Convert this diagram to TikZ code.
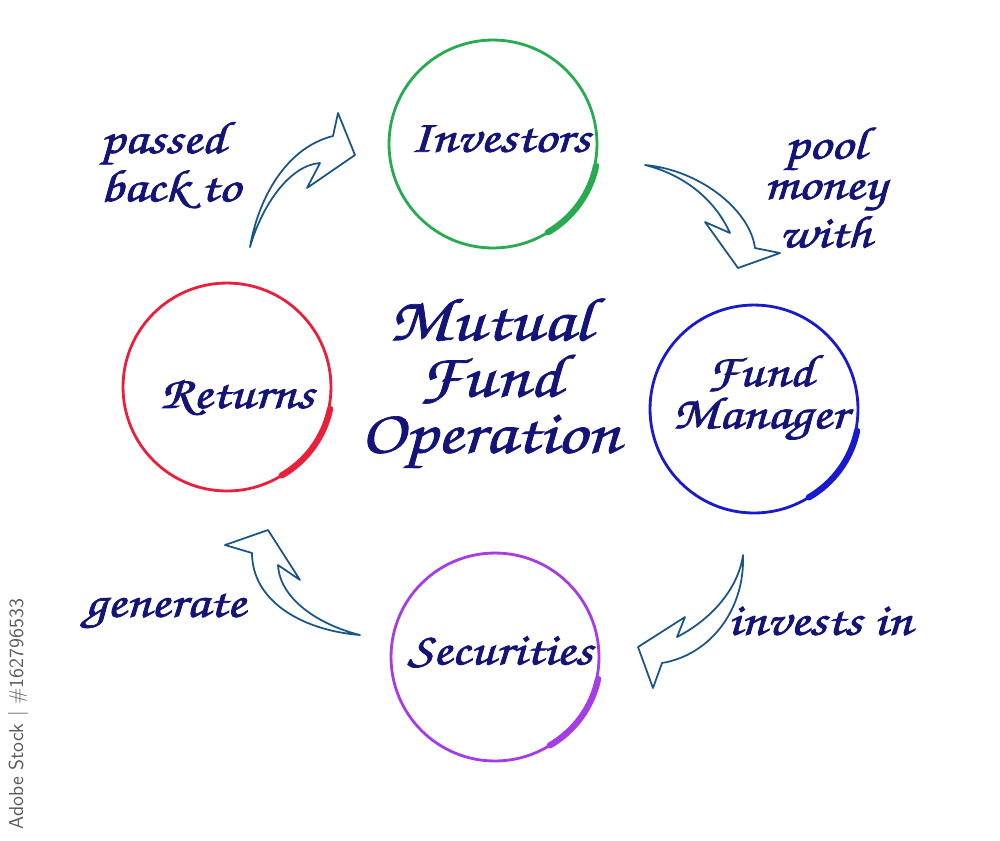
\documentclass[tikz,border=0pt]{standalone}
\usepackage[T1,TU]{fontenc}
\usepackage{graphicx}
\definecolor{ink}{RGB}{20,20,120}
\definecolor{arrowblue}{RGB}{25,85,135}
\definecolor{invgreen}{RGB}{40,170,80}
\definecolor{fmblue}{RGB}{25,25,205}
\definecolor{secpurple}{RGB}{165,60,228}
\definecolor{retred}{RGB}{232,32,60}
\newcommand\hand{\fontencoding{T1}\fontfamily{pzc}\fontseries{m}\fontshape{it}\selectfont}
% widen and thicken one line of hand lettering
\newcommand\hw[1]{\scalebox{1.2}[1]{\special{pdf:literal direct 2 Tr 0.4 w}#1\special{pdf:literal direct 0 Tr}}}
\begin{document}
\begin{tikzpicture}[x=0.02cm, y=-0.02cm,
  every node/.style={text=ink, font=\hand\fontsize{26}{23}\selectfont, align=center},
  ring/.style={circle, minimum size=4.16cm, inner sep=0pt, line width=1.6pt},
  tail/.style={line width=3.6pt, line cap=round},
  blockarrow/.style={draw=arrowblue, line width=1pt, line join=round, fill=white}]
  \useasboundingbox (0,0) rectangle (1000,840);
  % circles
  \node[ring, draw=invgreen] (inv) at (493,144) {};
  \node[ring, draw=fmblue] (fm) at (754,409) {};
  \node[ring, draw=secpurple] (sec) at (495,657) {};
  \node[ring, draw=retred] (ret) at (227,387) {};
  \draw[tail, invgreen] (inv.-12) arc[start angle=12, end angle=60, radius=101];
  \draw[tail, fmblue] (fm.-12) arc[start angle=12, end angle=60, radius=101];
  \draw[tail, secpurple] (sec.-12) arc[start angle=12, end angle=60, radius=101];
  \draw[tail, retred] (ret.-12) arc[start angle=12, end angle=60, radius=101];
  \node (invtext) at (500,138) {\hw{Investors}};
  \node (fmtext) at (760,398) {\hw{Fund}\\[1pt]\hw{Manager}};
  \node (sectext) at (500,652) {\hw{Securities}};
  \node (rettext) at (237,397) {\hw{Returns}};
  % title
  \node[font=\hand\fontsize{35}{32}\selectfont] (title) at (490,384) {\hw{Mutual}\\\hw{Fund}\\\hw{Operation}};
  % arrows
  \draw[blockarrow] (250,247) .. controls (258,200) and (285,148) .. (333,136) -- (338,113) -- (355,155)
    -- (307,188) -- (320,163) .. controls (290,165) and (262,205) .. (250,247) -- cycle;
  \draw[blockarrow] (645,165) .. controls (700,170) and (750,210) .. (755,248) -- (780,253) -- (738,268)
    -- (705,222) -- (730,233) .. controls (715,200) and (685,175) .. (645,165) -- cycle;
  \draw[blockarrow] (743,555) .. controls (738,590) and (710,620) .. (677,637) -- (685,617) -- (638,647)
    -- (653,688) -- (662,663) .. controls (710,655) and (745,610) .. (743,555) -- cycle;
  \draw[blockarrow] (268,530) -- (300,580) -- (278,565) .. controls (280,600) and (320,625) .. (360,635)
    .. controls (300,630) and (252,600) .. (252,553) -- (225,545) -- cycle;
  % labels
  \node[align=left, anchor=west] (passed) at (94,165) {\hw{passed}\\\hw{back to}};
  \node (pool) at (825,187) {\hw{pool}\\\hw{money}\\\hw{with}};
  \node (invests) at (820,621) {\hw{invests in}};
  \node (generate) at (165,611) {\hw{generate}};
  \node[rotate=90, text=black!65, font=\sffamily\fontsize{11.5}{12}\selectfont] (stock) at (18,714) {Adobe Stock | \#162796533};
\end{tikzpicture}
\end{document}
